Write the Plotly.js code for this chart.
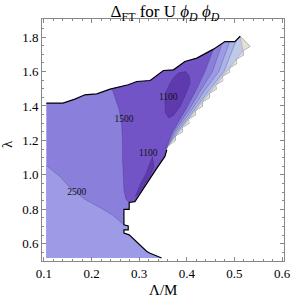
<!DOCTYPE html>
<html>
<head>
<meta charset="utf-8">
<script src="https://cdn.plot.ly/plotly-3.0.1.min.js"></script>
<style>html,body{margin:0;padding:0;background:#fff;}#chart{width:292px;height:300px;}</style>
</head>
<body>
<div id="chart"></div>
<script>
// ---- data (Λ/M , λ) ----
// upper boundary of the allowed region (left -> peak)
const topX = [0.105,0.140,0.165,0.186,0.211,0.239,0.277,0.295,0.323,0.351,0.372,0.396,0.421,0.456,0.480,0.501,0.512];
const topY = [1.417,1.417,1.440,1.465,1.470,1.498,1.523,1.542,1.548,1.606,1.610,1.658,1.678,1.730,1.774,1.774,1.805];
// jagged right edge (tips and notches, top -> bottom)
const zigX = [0.533,0.518,0.519,0.504,0.505,0.490,0.490,0.475,0.476,0.461,0.462,0.447,0.448,0.433,0.433,0.418,0.419,0.404,0.405,0.390,0.391,0.376,0.376,0.362];
const zigY = [1.745,1.720,1.695,1.671,1.646,1.621,1.596,1.572,1.547,1.522,1.497,1.473,1.448,1.423,1.398,1.373,1.348,1.324,1.299,1.274,1.249,1.225,1.200,1.170];
// lower-right boundary (top -> bottom)
const lowX = [0.358,0.354,0.335,0.316,0.298,0.291,0.279,0.279,0.268,0.268,0.277,0.277,0.268,0.268,0.279,0.309,0.316,0.323,0.340,0.347];
const lowY = [1.146,1.107,1.030,0.952,0.880,0.845,0.840,0.800,0.800,0.710,0.704,0.681,0.681,0.662,0.652,0.570,0.555,0.545,0.526,0.517];
const baseX = [0.105];
const baseY = [0.517];
// contour lines
const c2500X = [0.105,0.134,0.155,0.185,0.218,0.245,0.268];
const c2500Y = [1.055,0.990,0.925,0.860,0.810,0.765,0.710];
const c1500X = [0.243,0.251,0.258,0.263,0.265,0.265,0.266,0.268,0.272,0.279];
const c1500Y = [1.501,1.440,1.378,1.300,1.204,1.100,1.000,0.913,0.860,0.840];
const islandX = [0.382,0.397,0.405,0.407,0.398,0.386,0.372,0.362,0.355,0.354,0.356,0.365,0.374,0.382];
const islandY = [1.591,1.600,1.575,1.533,1.470,1.397,1.345,1.330,1.360,1.420,1.480,1.533,1.570,1.591];
const sliverX = [0.328,0.322,0.313,0.303,0.295,0.292,0.300,0.313,0.324,0.331,0.328];
const sliverY = [1.105,1.060,1.000,0.950,0.900,0.875,0.895,0.950,1.000,1.050,1.105];
// contour lines hugging the jagged edge (inner -> outer)
const b1X = [0.456,0.438,0.421,0.398,0.370,0.355], b1Y = [1.730,1.600,1.500,1.380,1.250,1.150];
const b2X = [0.474,0.454,0.431,0.405,0.373,0.356], b2Y = [1.764,1.600,1.500,1.380,1.250,1.153];
const b3X = [0.490,0.467,0.440,0.411,0.377,0.357], b3Y = [1.774,1.600,1.500,1.380,1.250,1.156];
const b4X = [0.503,0.478,0.449,0.416,0.381,0.358], b4Y = [1.777,1.600,1.500,1.380,1.250,1.159];
// contour labels
const labText = ['2500','1500','1100','1100'];
const labX = [0.169,0.268,0.361,0.319];
const labY = [0.898,1.322,1.446,1.126];
// tick values
const xTicks = [0.1,0.2,0.3,0.4,0.5,0.6];
const yTicks = [0.6,0.8,1.0,1.2,1.4,1.6,1.8];
// axis titles
const xTitle = 'Λ/M', yTitle = 'λ';

// ---- colours ----
const colHigh = '#9d9be6', colMid = '#8a80dc', colLow = '#7254c7', colMin = '#5f3aae';
const colE3 = '#abb3e8', colE4 = '#bdcae9', colTeeth = '#e4e0d2';
const serif = 'Liberation Serif, Times New Roman, serif';

const rev = a => a.slice().reverse();
const traces = [];
function poly(x, y, fill, line) {
  traces.push({type:'scatter', mode:'lines', x:x.concat([x[0]]), y:y.concat([y[0]]), fill:'toself',
    fillcolor:fill, line: line || {width:0, color:fill}, hoverinfo:'skip', showlegend:false});
}
function path(x, y, line) {
  traces.push({type:'scatter', mode:'lines', x:x, y:y, line:line, hoverinfo:'skip', showlegend:false});
}

// whole region
poly(topX.concat(zigX, lowX, baseX), topY.concat(zigY, lowY, baseY), colMid);
// high region lower-left
{
  const idx = lowY.map((v,i)=>i).filter(i => lowY[i] <= 0.71);
  poly(c2500X.concat(idx.map(i=>lowX[i]), baseX), c2500Y.concat(idx.map(i=>lowY[i]), baseY), colHigh);
}
// 1100-1500 band
{
  const li = lowY.map((v,i)=>i).filter(i => lowY[i] > 0.84 && lowX[i] > 0.28).reverse();
  const ti = topX.map((v,i)=>i).filter(i => topX[i] > 0.243 && topX[i] < 0.456).reverse();
  poly(c1500X.concat(li.map(i=>lowX[i]), rev(b1X), ti.map(i=>topX[i])),
       c1500Y.concat(li.map(i=>lowY[i]), rev(b1Y), ti.map(i=>topY[i])), colLow);
}
// minima
poly(islandX, islandY, colMin, {width:0.7, color:'rgba(40,20,80,0.35)'});
poly(sliverX, sliverY, colMin, {width:0.7, color:'rgba(40,20,80,0.35)'});
// edge bands
function edgeBand(bx, by, fill) {
  const ti = topX.map((v,i)=>i).filter(i => topX[i] > bx[0] && i < topX.length-1).reverse();
  poly(bx.concat(rev(zigX), [topX[topX.length-1]], ti.map(i=>topX[i])),
       by.concat(rev(zigY), [topY[topY.length-1]], ti.map(i=>topY[i])), fill);
}
edgeBand(b2X, b2Y, colHigh);
edgeBand(b3X, b3Y, colE3);
edgeBand(b4X, b4Y, colE4);
// teeth
{
  const nx = zigX.filter((v,i)=>i%2===1), ny = zigY.filter((v,i)=>i%2===1);
  poly([topX[topX.length-1]].concat(zigX, rev(nx)), [topY[topY.length-1]].concat(zigY, rev(ny)), colTeeth,
       {width:0.6, color:'rgba(140,140,150,0.6)'});
}
// contour lines
const cl = {width:0.7, color:'rgba(40,30,80,0.35)'};
path(c2500X, c2500Y, cl);
path(c1500X, c1500Y, cl);
path(b1X, b1Y, cl); path(b2X, b2Y, cl); path(b3X, b3Y, cl); path(b4X, b4Y, cl);
// black region boundary
path(topX, topY, {width:1.2, color:'#000'});
path(lowX, lowY, {width:1.2, color:'#000'});
// labels
traces.push({type:'scatter', mode:'text', x:labX, y:labY, text:labText, textposition:'middle center',
  textfont:{family:serif, size:9.5, color:'#111'}, hoverinfo:'skip', showlegend:false});

const axisCommon = {
  showgrid:false, zeroline:false, showline:true, linecolor:'#888', linewidth:1, mirror:'allticks',
  ticks:'inside', ticklen:4, tickcolor:'#888', tickwidth:1,
  tickfont:{family:serif, size:13, color:'#000'}
};
const layout = {
  width:292, height:300, margin:{l:42, r:8, t:19, b:39},
  paper_bgcolor:'#fff', plot_bgcolor:'#fff', showlegend:false,
  title:{text:'Δ<sub>FT</sub> for U <i>ϕ<sub>D</sub></i> <i>ϕ<sub>D</sub></i>', font:{family:serif, size:17, color:'#000'},
         x:0.565, xanchor:'center', y:0.962, yanchor:'middle'},
  xaxis: Object.assign({}, axisCommon, {range:[0.096,0.604], tickvals:xTicks, ticktext:xTicks.map(v=>v.toFixed(1)),
    minor:{dtick:0.02, tick0:0, ticks:'inside', ticklen:2, tickcolor:'#888', showgrid:false}}),
  yaxis: Object.assign({}, axisCommon, {range:[0.5,1.905], tickvals:yTicks, ticktext:yTicks.map(v=>v.toFixed(1)),
    minor:{dtick:0.05, tick0:0, ticks:'inside', ticklen:2, tickcolor:'#888', showgrid:false}}),
  annotations: [
    {text:xTitle, xref:'paper', yref:'paper', x:0.5, y:-0.12, xanchor:'center', yanchor:'middle',
     showarrow:false, font:{family:serif, size:15, color:'#000'}},
    {text:yTitle, xref:'paper', yref:'paper', x:-0.145, y:0.483, xanchor:'center', yanchor:'middle',
     textangle:-90, showarrow:false, font:{family:serif, size:15, color:'#000'}}
  ]
};
Plotly.newPlot('chart', traces, layout, {staticPlot:true, displayModeBar:false});
</script>
</body>
</html>
